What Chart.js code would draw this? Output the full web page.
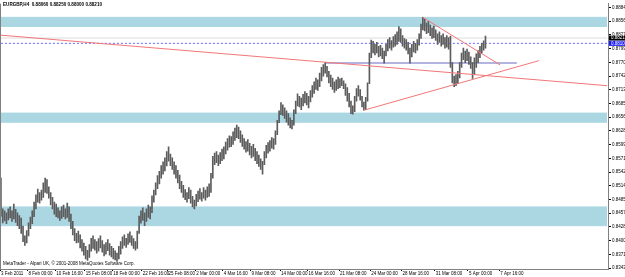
<!DOCTYPE html>
<html>
<head>
<meta charset="utf-8">
<script src="https://cdn.jsdelivr.net/npm/chart.js@4"></script>
<style>
  body { margin: 0; background: #fff; }
  canvas { display: block; }
</style>
</head>
<body>
<canvas id="grafico" width="625" height="277"></canvas>
<script>
// EURGBP H4 bars (high / low)
const highs = [
  0.8530,0.8466,0.8462,0.8458,0.8466,0.8470,0.8462,0.8476,0.8465,0.8458,
  0.8452,0.8447,0.8430,0.8410,0.8421,0.8437,0.8449,0.8462,0.8480,0.8495,
  0.8507,0.8500,0.8505,0.8520,0.8530,0.8527,0.8512,0.8500,0.8490,0.8480,
  0.8476,0.8468,0.8462,0.8470,0.8474,0.8466,0.8478,0.8470,0.8455,0.8440,
  0.8425,0.8415,0.8420,0.8412,0.8402,0.8395,0.8388,0.8380,0.8392,0.8405,
  0.8410,0.8402,0.8398,0.8404,0.8410,0.8400,0.8392,0.8396,0.8402,0.8394,
  0.8388,0.8384,0.8379,0.8374,0.8388,0.8398,0.8408,0.8412,0.8405,0.8414,
  0.8418,0.8410,0.8404,0.8398,0.8420,0.8451,0.8462,0.8468,0.8458,0.8466,
  0.8474,0.8470,0.8493,0.8505,0.8520,0.8535,0.8544,0.8556,0.8564,0.8572,
  0.8585,0.8595,0.8580,0.8572,0.8564,0.8556,0.8546,0.8536,0.8523,0.8515,
  0.8506,0.8500,0.8510,0.8505,0.8492,0.8484,0.8496,0.8503,0.8508,0.8500,
  0.8510,0.8505,0.8512,0.8518,0.8540,0.8575,0.8582,0.8585,0.8578,0.8583,
  0.8590,0.8595,0.8605,0.8612,0.8618,0.8616,0.8626,0.8634,0.8640,0.8636,
  0.8628,0.8620,0.8612,0.8606,0.8610,0.8602,0.8596,0.8600,0.8592,0.8585,
  0.8578,0.8570,0.8565,0.8585,0.8598,0.8604,0.8608,0.8614,0.8612,0.8628,
  0.8650,0.8670,0.8687,0.8682,0.8676,0.8670,0.8664,0.8655,0.8650,0.8672,
  0.8690,0.8705,0.8700,0.8696,0.8704,0.8710,0.8706,0.8700,0.8712,0.8722,
  0.8730,0.8738,0.8734,0.8748,0.8760,0.8766,0.8770,0.8762,0.8752,0.8744,
  0.8738,0.8730,0.8734,0.8740,0.8736,0.8738,0.8732,0.8726,0.8718,0.8706,
  0.8690,0.8680,0.8700,0.8716,0.8722,0.8714,0.8700,0.8688,0.8698,0.8728,
  0.8790,0.8817,0.8814,0.8808,0.8812,0.8804,0.8806,0.8800,0.8794,0.8808,
  0.8818,0.8822,0.8816,0.8824,0.8828,0.8834,0.8845,0.8840,0.8826,0.8820,
  0.8818,0.8812,0.8800,0.8808,0.8814,0.8810,0.8818,0.8830,0.8850,0.8864,
  0.8860,0.8852,0.8856,0.8848,0.8842,0.8846,0.8838,0.8830,0.8834,0.8826,
  0.8830,0.8822,0.8826,0.8822,0.8825,0.8770,0.8742,0.8745,0.8752,0.8770,
  0.8790,0.8800,0.8794,0.8798,0.8792,0.8782,0.8770,0.8780,0.8788,0.8795,
  0.8804,0.8810,0.8815,0.8825
]
const lows = [
  0.8451,0.8437,0.8441,0.8435,0.8443,0.8447,0.8440,0.8445,0.8438,0.8431,
  0.8425,0.8415,0.8398,0.8390,0.8395,0.8410,0.8425,0.8435,0.8450,0.8466,
  0.8480,0.8478,0.8484,0.8490,0.8500,0.8498,0.8488,0.8474,0.8466,0.8455,
  0.8450,0.8447,0.8442,0.8446,0.8450,0.8445,0.8448,0.8440,0.8425,0.8412,
  0.8400,0.8395,0.8396,0.8385,0.8378,0.8370,0.8362,0.8359,0.8365,0.8378,
  0.8384,0.8380,0.8374,0.8378,0.8385,0.8376,0.8368,0.8372,0.8379,0.8370,
  0.8366,0.8362,0.8360,0.8357,0.8362,0.8372,0.8384,0.8390,0.8386,0.8392,
  0.8396,0.8390,0.8384,0.8380,0.8384,0.8415,0.8436,0.8442,0.8431,0.8440,
  0.8448,0.8445,0.8458,0.8480,0.8495,0.8508,0.8518,0.8530,0.8538,0.8545,
  0.8555,0.8565,0.8556,0.8548,0.8538,0.8530,0.8520,0.8508,0.8500,0.8490,
  0.8485,0.8480,0.8487,0.8478,0.8470,0.8466,0.8472,0.8481,0.8486,0.8482,
  0.8488,0.8484,0.8490,0.8492,0.8500,0.8530,0.8558,0.8562,0.8556,0.8560,
  0.8566,0.8570,0.8580,0.8588,0.8594,0.8595,0.8600,0.8608,0.8614,0.8612,
  0.8604,0.8596,0.8590,0.8584,0.8586,0.8578,0.8572,0.8575,0.8566,0.8560,
  0.8554,0.8548,0.8538,0.8558,0.8572,0.8582,0.8586,0.8592,0.8590,0.8600,
  0.8620,0.8645,0.8662,0.8660,0.8654,0.8646,0.8640,0.8634,0.8632,0.8640,
  0.8664,0.8680,0.8678,0.8672,0.8680,0.8686,0.8682,0.8676,0.8688,0.8698,
  0.8706,0.8714,0.8712,0.8720,0.8732,0.8742,0.8748,0.8740,0.8728,0.8720,
  0.8714,0.8708,0.8712,0.8716,0.8718,0.8722,0.8716,0.8702,0.8690,0.8678,
  0.8664,0.8663,0.8668,0.8690,0.8700,0.8692,0.8678,0.8671,0.8672,0.8690,
  0.8726,0.8780,0.8790,0.8786,0.8790,0.8782,0.8784,0.8778,0.8769,0.8784,
  0.8794,0.8800,0.8796,0.8802,0.8804,0.8808,0.8814,0.8812,0.8804,0.8800,
  0.8796,0.8788,0.8769,0.8782,0.8792,0.8790,0.8796,0.8806,0.8820,0.8838,
  0.8836,0.8830,0.8832,0.8826,0.8820,0.8822,0.8816,0.8808,0.8812,0.8804,
  0.8808,0.8800,0.8802,0.8798,0.8760,0.8728,0.8720,0.8722,0.8726,0.8738,
  0.8760,0.8776,0.8770,0.8774,0.8766,0.8758,0.8737,0.8745,0.8760,0.8770,
  0.8780,0.8790,0.8796,0.8800
]

// total slots on the time axis (empty space right of the last bar)
const nSlots = 330

// date labels and the bar slot they sit at
const dateTicks = ['3 Feb 2011','8 Feb 00:00','10 Feb 16:00','15 Feb 08:00','18 Feb 00:00','22 Feb 16:00',
  '25 Feb 08:00','2 Mar 00:00','4 Mar 16:00','9 Mar 08:00','14 Mar 00:00','16 Mar 16:00',
  '21 Mar 08:00','24 Mar 00:00','28 Mar 16:00','31 Mar 08:00','5 Apr 00:00','7 Apr 16:00']
const dateTickSlot = [0,15,30,46,61,77,91,106,121,136,152,167,184,201,218,236,254,271]

// price scale labels
const priceTicks = [0.83430,0.83715,0.84000,0.84285,0.84570,0.84855,0.85140,0.85425,0.85710,0.85995,
  0.86280,0.86565,0.86850,0.87135,0.87420,0.87705,0.87990,0.88275,0.88560,0.88845]
const priceMin = 0.83410
const priceMax = 0.88924

// light blue support / resistance zones
const zoneTop = [0.8864, 0.8665, 0.8470]
const zoneBottom = [0.8845, 0.8646, 0.8431]

// red trend lines: start slot/price, end slot/price
const trendX1 = [0, 197, 229]
const trendY1 = [0.8827, 0.8671, 0.8864]
const trendX2 = [329, 292, 271]
const trendY2 = [0.8722, 0.8774, 0.8765]

// horizontal levels
const levelLavender = 0.8769
const levelLavenderFrom = 176
const levelLavenderTo = 280
const levelBlue = 0.8810
const bidPrice = 0.8821

const titulo = 'EURGBP,H4  0.88060 0.88250 0.88000 0.88210'
const marca = 'MetaTrader - Alpari UK, \u00a9 2001-2008 MetaQuotes Software Corp.'

const fonte = 'Liberation Sans'
const labels = Array.from({length: nSlots}, (_, i) => String(i))
// category scale wants the label text as x
const px = i => labels[i]

let datasets = []

// zones (pairs of flat lines, filled between)
zoneTop.forEach((top, k) => {
  datasets.push({
    type: 'line', order: 20,
    data: [{x: px(0), y: zoneBottom[k]}, {x: px(nSlots - 1), y: zoneBottom[k]}],
    borderColor: '#abd7e3', borderWidth: 1, pointRadius: 0, fill: false
  })
  datasets.push({
    type: 'line', order: 20,
    data: [{x: px(0), y: top}, {x: px(nSlots - 1), y: top}],
    borderColor: '#abd7e3', borderWidth: 1, pointRadius: 0,
    fill: '-1', backgroundColor: '#abd7e3'
  })
})

// bid and alert lines
datasets.push({
  type: 'line', order: 15,
  data: [{x: px(0), y: bidPrice}, {x: px(nSlots - 1), y: bidPrice}],
  borderColor: '#dcdcdc', borderWidth: 1, pointRadius: 0, fill: false
})
datasets.push({
  type: 'line', order: 15,
  data: [{x: px(0), y: levelBlue}, {x: px(nSlots - 1), y: levelBlue}],
  borderColor: '#6a6aff', borderWidth: 1, borderDash: [2, 2], pointRadius: 0, fill: false
})
datasets.push({
  type: 'line', order: 12,
  data: [{x: px(levelLavenderFrom), y: levelLavender}, {x: px(levelLavenderTo), y: levelLavender}],
  borderColor: '#b4b4e2', borderWidth: 2, pointRadius: 0, fill: false
})

// bars
datasets.push({
  type: 'bar', order: 5,
  data: highs.map((h, i) => [lows[i], h]),
  backgroundColor: '#5c5c5c', barThickness: 1, borderWidth: 0
})

// trend lines
trendX1.forEach((x1, k) => {
  datasets.push({
    type: 'line', order: 1,
    data: [{x: px(x1), y: trendY1[k]}, {x: px(trendX2[k]), y: trendY2[k]}],
    borderColor: '#f27676', borderWidth: 1, pointRadius: 0, fill: false
  })
})

const decor = {
  id: 'decor',
  afterDraw(chart) {
    const c = chart.ctx
    const a = chart.chartArea
    const y = chart.scales.y
    c.save()
    c.strokeStyle = '#808080'
    c.lineWidth = 1
    c.beginPath()
    c.moveTo(0.5, a.top)
    c.lineTo(0.5, a.bottom)
    c.stroke()

    c.fillStyle = '#000'
    c.font = 'bold 4.6px ' + fonte
    c.textBaseline = 'middle'
    c.textAlign = 'left'
    c.fillText(titulo, 3, 5)
    c.font = '4.5px ' + fonte
    c.fillText(marca, 3, 264)

    // price tags on the axis
    const tag = (v, bg) => {
      const py = y.getPixelForValue(v)
      c.fillStyle = bg
      c.fillRect(a.right + 1, py - 2.5, 20, 5)
      c.fillStyle = '#fff'
      c.font = '4.5px ' + fonte
      c.fillText(v.toFixed(5), a.right + 3, py)
    }
    tag(bidPrice, '#000')
    tag(levelBlue, '#1a1aff')
    c.restore()
  }
}

let grafico = new Chart(document.getElementById('grafico'), {
  type: 'bar',
  data: { labels: labels, datasets: datasets },
  plugins: [decor],
  options: {
    responsive: false,
    animation: false,
    layout: { padding: 0 },
    plugins: { legend: { display: false }, tooltip: { enabled: false } },
    scales: {
      x: {
        offset: true,
        afterFit: s => { s.height = 8 },
        grid: {
          drawOnChartArea: false, tickLength: 2,
          color: ctx => dateTickSlot.includes(ctx.index) ? '#000' : 'rgba(0,0,0,0)'
        },
        border: { color: '#808080' },
        ticks: {
          autoSkip: false, maxRotation: 0, minRotation: 0, align: 'start', padding: 0,
          color: '#000', font: { family: fonte, size: 4.5 },
          callback: (v, i) => {
            const k = dateTickSlot.indexOf(i)
            return k >= 0 ? dateTicks[k] : ''
          }
        }
      },
      y: {
        position: 'right',
        min: priceMin,
        max: priceMax,
        afterFit: s => { s.width = 17 },
        afterBuildTicks: s => { s.ticks = priceTicks.map(v => ({ value: v })) },
        grid: { drawOnChartArea: false, tickLength: 3, color: '#000' },
        border: { color: '#808080' },
        ticks: {
          autoSkip: false, padding: 1, color: '#000',
          font: { family: fonte, size: 4.5 },
          callback: v => v.toFixed(5)
        }
      }
    }
  }
})
</script>
</body>
</html>
